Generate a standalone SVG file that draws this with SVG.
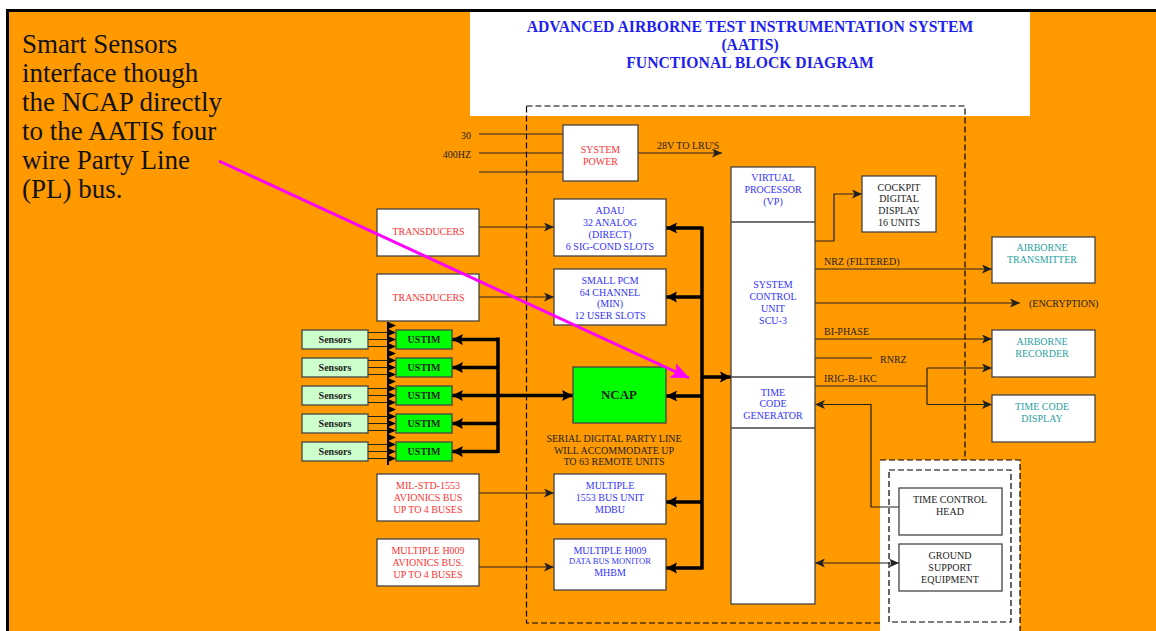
<svg xmlns="http://www.w3.org/2000/svg" width="1156" height="631" viewBox="0 0 1156 631">
<style>
text{font-family:"Liberation Serif","Times New Roman",serif;font-size:10px;text-anchor:middle}
.bx{fill:#fff;stroke:#444;stroke-width:1.3}
.gr{fill:#00ff00;stroke:#444;stroke-width:1.3}
.lg{fill:#ccffcc;stroke:#444;stroke-width:1.3}
.red{fill:#ff3333}
.blu{fill:#3333ff}
.tea{fill:#2a9f9f}
.blk{fill:#222}
.b{font-weight:bold}
.l{text-anchor:start}
.r{text-anchor:end}
.tt{font-size:15.7px;font-weight:bold;fill:#1f1fee}
.an{font-size:27px;fill:#111;text-anchor:start}
.ln{fill:none;stroke:#222;stroke-width:1.2}
.th{fill:none;stroke:#000;stroke-width:3.5}
.ds{fill:none;stroke:#000;stroke-width:1.2;stroke-dasharray:6,3}
</style>
<defs>
<marker id="ah" markerUnits="userSpaceOnUse" markerWidth="11" markerHeight="9" refX="10" refY="4.5" orient="auto-start-reverse" viewBox="0 0 11 9"><path d="M0,0 L10,4.5 L0,9 L2.5,4.5 z" fill="#222"/></marker>
<marker id="bh" markerUnits="userSpaceOnUse" markerWidth="12" markerHeight="12" refX="11" refY="6" orient="auto-start-reverse" viewBox="0 0 12 12"><path d="M0,0.5 L11,6 L0,11.5 L2,6 z" fill="#000"/></marker>
<marker id="mh" markerUnits="userSpaceOnUse" markerWidth="20" markerHeight="16" refX="18" refY="8" orient="auto" viewBox="0 0 20 16"><path d="M0,0 L18,8 L0,16 L4,8 z" fill="#ff00ff"/></marker>
<path id="sa" d="M0,-3.5 L8,0 L0,3.5 z" fill="#000"/>
</defs>

<rect x="0" y="0" width="1156" height="631" fill="#fff"/>
<rect x="7.5" y="10.5" width="1160" height="630" fill="#ff9900" stroke="#000" stroke-width="3"/>

<g id="title">
<rect x="470" y="12" width="560" height="104" fill="#fff"/>
<text x="750" y="32" class="tt">ADVANCED AIRBORNE TEST INSTRUMENTATION SYSTEM</text>
<text x="750" y="50" class="tt">(AATIS)</text>
<text x="750" y="68" class="tt">FUNCTIONAL BLOCK DIAGRAM</text>
</g>

<g id="annotation">
<text x="22" y="53" class="an">Smart Sensors</text>
<text x="22" y="82" class="an">interface though</text>
<text x="22" y="111" class="an">the NCAP directly</text>
<text x="22" y="140" class="an">to the AATIS four</text>
<text x="22" y="169" class="an">wire Party Line</text>
<text x="22" y="198" class="an">(PL) bus.</text>
</g>

<g id="boundaries">
<path class="ds" d="M526.5,106 H965 V460 M880,623 H526.5 V106"/>
<rect x="880" y="460" width="140" height="175" fill="#fff"/>
<path class="ds" d="M880,460 H1020 V631"/>
<rect x="889" y="470" width="122" height="152" class="ds"/>
</g>

<g id="connectors">
<line class="ln" x1="479" y1="134" x2="563" y2="134"/>
<line class="ln" x1="479" y1="153" x2="563" y2="153"/>
<line class="ln" x1="479" y1="172" x2="563" y2="172"/>
<line class="ln" x1="638" y1="153" x2="722" y2="153" marker-end="url(#ah)"/>
<text x="471" y="138.5" class="r blk">30</text>
<text x="471" y="157.5" class="r blk">400HZ</text>
<text x="657" y="149.3" class="l blk">28V TO LRU'S</text>
<line class="ln" x1="479" y1="227" x2="554" y2="227" marker-end="url(#ah)"/>
<line class="ln" x1="479" y1="297" x2="554" y2="297" marker-end="url(#ah)"/>
<line class="ln" x1="479" y1="493" x2="554" y2="493" marker-end="url(#ah)"/>
<line class="ln" x1="479" y1="567" x2="554" y2="567" marker-end="url(#ah)"/>
<line class="th" x1="702" y1="226.5" x2="702" y2="569.5"/>
<line class="th" x1="702" y1="228" x2="666" y2="228" marker-end="url(#bh)"/>
<line class="th" x1="702" y1="297" x2="666" y2="297" marker-end="url(#bh)"/>
<line class="th" x1="702" y1="396" x2="666" y2="396" marker-end="url(#bh)"/>
<line class="th" x1="702" y1="502" x2="666" y2="502" marker-end="url(#bh)"/>
<line class="th" x1="702" y1="568" x2="666" y2="568" marker-end="url(#bh)"/>
<line class="th" x1="702" y1="377" x2="731" y2="377" marker-end="url(#bh)"/>
<line class="th" x1="498" y1="337.5" x2="498" y2="453"/>
<line class="th" x1="498" y1="339.5" x2="452" y2="339.5" marker-end="url(#bh)"/>
<line class="th" x1="498" y1="367.5" x2="452" y2="367.5" marker-end="url(#bh)"/>
<line class="th" x1="573" y1="395.5" x2="452" y2="395.5" marker-start="url(#bh)" marker-end="url(#bh)"/>
<line class="th" x1="498" y1="423.5" x2="452" y2="423.5" marker-end="url(#bh)"/>
<line class="th" x1="498" y1="451.5" x2="452" y2="451.5" marker-end="url(#bh)"/>
<line x1="388" y1="322" x2="388" y2="465" stroke="#000" stroke-width="2"/>
<path class="ln" d="M368,332.5H388M368,339.5H388M368,346.5H388M368,360.5H388M368,367.5H388M368,374.5H388M368,388.5H388M368,395.5H388M368,402.5H388M368,416.5H388M368,423.5H388M368,430.5H388M368,444.5H388M368,451.5H388M368,458.5H388"/>
<use href="#sa" x="388" y="325.5"/><use href="#sa" x="388" y="332.5"/><use href="#sa" x="388" y="339.5"/><use href="#sa" x="388" y="346.5"/>
<use href="#sa" x="388" y="353.5"/><use href="#sa" x="388" y="360.5"/><use href="#sa" x="388" y="367.5"/><use href="#sa" x="388" y="374.5"/>
<use href="#sa" x="388" y="381.5"/><use href="#sa" x="388" y="388.5"/><use href="#sa" x="388" y="395.5"/><use href="#sa" x="388" y="402.5"/>
<use href="#sa" x="388" y="409.5"/><use href="#sa" x="388" y="416.5"/><use href="#sa" x="388" y="423.5"/><use href="#sa" x="388" y="430.5"/>
<use href="#sa" x="388" y="437.5"/><use href="#sa" x="388" y="444.5"/><use href="#sa" x="388" y="451.5"/><use href="#sa" x="388" y="458.5"/>
<path class="ln" d="M815,241 H834 V194 H862" marker-end="url(#ah)"/>
<line class="ln" x1="815" y1="269" x2="992" y2="269" marker-end="url(#ah)"/>
<line class="ln" x1="815" y1="303" x2="1020" y2="303" marker-end="url(#ah)"/>
<line class="ln" x1="815" y1="339" x2="992" y2="339" marker-end="url(#ah)"/>
<line class="ln" x1="815" y1="358" x2="872" y2="358"/>
<path class="ln" d="M815,386 H927"/>
<path class="ln" d="M927,368 V404.5"/>
<line class="ln" x1="927" y1="368" x2="992" y2="368" marker-end="url(#ah)"/>
<line class="ln" x1="927" y1="404.5" x2="992" y2="404.5" marker-end="url(#ah)"/>
<path class="ln" d="M899,507 H871 V404.5 H815" marker-end="url(#ah)"/>
<line class="ln" x1="815" y1="563" x2="899" y2="563" marker-start="url(#ah)" marker-end="url(#ah)"/>
<text x="824" y="265" class="l blk">NRZ (FILTERED)</text>
<text x="1029" y="307" class="l blk">(ENCRYPTION)</text>
<text x="824" y="335" class="l blk">BI-PHASE</text>
<text x="880" y="362.5" class="l blk">RNRZ</text>
<text x="824" y="381.5" class="l blk">IRIG-B-1KC</text>
<text x="614" y="441.7" class="blk">SERIAL DIGITAL PARTY LINE</text>
<text x="614" y="453.5" class="blk">WILL ACCOMMODATE UP</text>
<text x="614" y="465.3" class="blk">TO 63 REMOTE UNITS</text>
</g>

<g id="system-power"><rect class="bx" x="563" y="125" width="75" height="56"/>
<text x="600.5" y="152.5" class="red">SYSTEM</text><text x="600.5" y="164.5" class="red">POWER</text></g>

<g id="transducers-1"><rect class="bx" x="377" y="209" width="102" height="47"/><text x="428.5" y="235" class="red">TRANSDUCERS</text></g>
<g id="transducers-2"><rect class="bx" x="377" y="274" width="102" height="47"/><text x="428.5" y="301" class="red">TRANSDUCERS</text></g>

<g id="adau"><rect class="bx" x="554" y="199" width="112" height="57"/>
<text x="610" y="214" class="blu">ADAU</text><text x="610" y="226" class="blu">32 ANALOG</text><text x="610" y="238" class="blu">(DIRECT)</text><text x="610" y="250" class="blu">6 SIG-COND SLOTS</text></g>

<g id="small-pcm"><rect class="bx" x="554" y="269" width="112" height="56"/>
<text x="610" y="284" class="blu">SMALL PCM</text><text x="610" y="295.7" class="blu">64 CHANNEL</text><text x="610" y="307.3" class="blu">(MIN)</text><text x="610" y="319" class="blu">12 USER SLOTS</text></g>

<g id="ncap"><rect class="gr" x="573" y="367" width="93" height="56"/><text x="619" y="399" class="b blk" style="font-size:13px">NCAP</text></g>

<g id="sensors-1"><rect class="lg" x="302" y="330" width="66" height="19"/><text x="335" y="342.8" class="b blk">Sensors</text></g>
<g id="sensors-2"><rect class="lg" x="302" y="358" width="66" height="19"/><text x="335" y="370.8" class="b blk">Sensors</text></g>
<g id="sensors-3"><rect class="lg" x="302" y="386" width="66" height="19"/><text x="335" y="398.8" class="b blk">Sensors</text></g>
<g id="sensors-4"><rect class="lg" x="302" y="414" width="66" height="19"/><text x="335" y="426.8" class="b blk">Sensors</text></g>
<g id="sensors-5"><rect class="lg" x="302" y="442" width="66" height="19"/><text x="335" y="454.8" class="b blk">Sensors</text></g>

<g id="ustim-1"><rect class="gr" x="396" y="330" width="56" height="19"/><text x="424" y="342.8" class="b blk">USTIM</text></g>
<g id="ustim-2"><rect class="gr" x="396" y="358" width="56" height="19"/><text x="424" y="370.8" class="b blk">USTIM</text></g>
<g id="ustim-3"><rect class="gr" x="396" y="386" width="56" height="19"/><text x="424" y="398.8" class="b blk">USTIM</text></g>
<g id="ustim-4"><rect class="gr" x="396" y="414" width="56" height="19"/><text x="424" y="426.8" class="b blk">USTIM</text></g>
<g id="ustim-5"><rect class="gr" x="396" y="442" width="56" height="19"/><text x="424" y="454.8" class="b blk">USTIM</text></g>

<g id="mil-std-1553"><rect class="bx" x="377" y="474" width="102" height="47"/>
<text x="428" y="489" class="red">MIL-STD-1553</text><text x="428" y="500.7" class="red">AVIONICS BUS</text><text x="428" y="512.7" class="red">UP TO 4 BUSES</text></g>

<g id="mdbu"><rect class="bx" x="554" y="474" width="112" height="50"/>
<text x="610" y="489" class="blu">MULTIPLE</text><text x="610" y="500.7" class="blu">1553 BUS UNIT</text><text x="610" y="512.7" class="blu">MDBU</text></g>

<g id="h009-bus"><rect class="bx" x="377" y="539" width="102" height="47"/>
<text x="428" y="554" class="red">MULTIPLE H009</text><text x="428" y="565.7" class="red">AVIONICS BUS.</text><text x="428" y="577.7" class="red">UP TO 4 BUSES</text></g>

<g id="mhbm"><rect class="bx" x="554" y="539" width="112" height="51"/>
<text x="610" y="554" class="blu">MULTIPLE H009</text><text x="610" y="564.3" class="blu" style="font-size:8.5px">DATA BUS MONITOR</text><text x="610" y="576" class="blu">MHBM</text></g>

<g id="scu">
<rect class="bx" x="731" y="167" width="84" height="437"/>
<line x1="731" y1="222" x2="815" y2="222" stroke="#444" stroke-width="1.3"/>
<line x1="731" y1="377" x2="815" y2="377" stroke="#444" stroke-width="1.3"/>
<line x1="731" y1="428" x2="815" y2="428" stroke="#444" stroke-width="1.3"/>
<text x="773" y="181" class="blu">VIRTUAL</text><text x="773" y="193.3" class="blu">PROCESSOR</text><text x="773" y="205" class="blu">(VP)</text>
<text x="773" y="288.3" class="blu">SYSTEM</text><text x="773" y="300.3" class="blu">CONTROL</text><text x="773" y="312" class="blu">UNIT</text><text x="773" y="324" class="blu">SCU-3</text>
<text x="773" y="396" class="blu">TIME</text><text x="773" y="407" class="blu">CODE</text><text x="773" y="418.7" class="blu">GENERATOR</text>
</g>

<g id="cockpit"><rect class="bx" x="862" y="176" width="74" height="56"/>
<text x="899" y="190.7" class="blk">COCKPIT</text><text x="899" y="202.3" class="blk">DIGITAL</text><text x="899" y="214.3" class="blk">DISPLAY</text><text x="899" y="225.7" class="blk">16 UNITS</text></g>

<g id="airborne-transmitter"><rect class="bx" x="992" y="237" width="103" height="46"/>
<text x="1042" y="251.3" class="tea">AIRBORNE</text><text x="1042" y="263" class="tea">TRANSMITTER</text></g>

<g id="airborne-recorder"><rect class="bx" x="992" y="330" width="103" height="47"/>
<text x="1042" y="345.3" class="tea">AIRBORNE</text><text x="1042" y="357" class="tea">RECORDER</text></g>

<g id="time-code-display"><rect class="bx" x="992" y="395" width="103" height="47"/>
<text x="1042" y="410.3" class="tea">TIME CODE</text><text x="1042" y="421.7" class="tea">DISPLAY</text></g>

<g id="time-control-head"><rect class="bx" x="899" y="488" width="103" height="47"/>
<text x="950" y="503.3" class="blk">TIME CONTROL</text><text x="950" y="515" class="blk">HEAD</text></g>

<g id="ground-support"><rect class="bx" x="899" y="544" width="103" height="47"/>
<text x="950" y="559" class="blk">GROUND</text><text x="950" y="571" class="blk">SUPPORT</text><text x="950" y="583" class="blk">EQUIPMENT</text></g>

<g id="pointer">
<line x1="219" y1="161" x2="689" y2="378" stroke="#ff00ff" stroke-width="3" marker-end="url(#mh)"/>
</g>
</svg>
